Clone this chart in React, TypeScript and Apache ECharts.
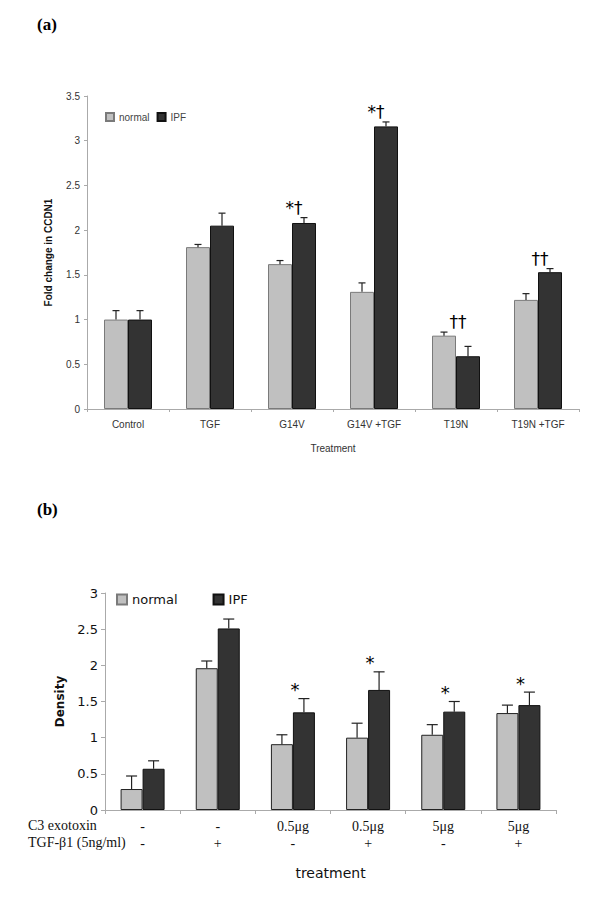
import React, { useEffect, useRef } from 'react';
import * as echarts from 'echarts';

// ---------- Panel (a) data ----------
const categoriesA = ['Control', 'TGF', 'G14V', 'G14V +TGF', 'T19N', 'T19N +TGF'];
const normalA = [1.0, 1.81, 1.62, 1.31, 0.82, 1.22];
const normalErrA = [0.10, 0.03, 0.04, 0.10, 0.04, 0.07];
const ipfA = [1.0, 2.05, 2.08, 3.16, 0.59, 1.53];
const ipfErrA = [0.10, 0.14, 0.06, 0.05, 0.11, 0.04];
const marksA = ['', '', '*†', '*†', '††', '††'];

// ---------- Panel (b) data ----------
const c3Row = ['-', '-', '0.5μg', '0.5μg', '5μg', '5μg'];
const tgfRow = ['-', '+', '-', '+', '-', '+'];
const normalB = [0.29, 1.96, 0.91, 1.0, 1.04, 1.34];
const normalErrB = [0.18, 0.10, 0.13, 0.20, 0.14, 0.11];
const ipfB = [0.57, 2.51, 1.35, 1.66, 1.36, 1.45];
const ipfErrB = [0.11, 0.13, 0.19, 0.25, 0.14, 0.18];
const marksB = ['', '', '*', '*', '*', '*'];

const categoriesB = c3Row.map((c, i) => c + '\n' + tgfRow[i]);

const BAR_A = 24;
const BAR_B = 22;

function errSeries(vals: number[], errs: number[], axis: number, offset: number, cap: number) {
  return {
    type: 'custom',
    xAxisIndex: axis,
    yAxisIndex: axis,
    z: 5,
    silent: true,
    data: vals.map((v, i) => [i, v, v + errs[i]]),
    renderItem: (_p: any, api: any) => {
      const base = api.coord([api.value(0), api.value(1)]);
      const top = api.coord([api.value(0), api.value(2)]);
      const x = base[0] + offset;
      return {
        type: 'group',
        children: [
          { type: 'line', shape: { x1: x, y1: base[1], x2: x, y2: top[1] }, style: { stroke: '#222', lineWidth: 1.2 } },
          { type: 'line', shape: { x1: x - cap, y1: top[1], x2: x + cap, y2: top[1] }, style: { stroke: '#222', lineWidth: 1.2 } },
        ],
      };
    },
  };
}

function markSeries(
  marks: string[], n: number[], ne: number[], p: number[], pe: number[],
  axis: number, dx: number, dy: number, font: string, size: number
) {
  return {
    type: 'custom',
    xAxisIndex: axis,
    yAxisIndex: axis,
    z: 6,
    silent: true,
    data: marks.map((_m, i) => [i, Math.max(n[i] + ne[i], p[i] + pe[i])]),
    renderItem: (params: any, api: any) => {
      const txt = marks[params.dataIndex];
      if (!txt) return { type: 'group', children: [] };
      const pt = api.coord([api.value(0), api.value(1)]);
      return {
        type: 'text',
        x: pt[0] + dx,
        y: pt[1] - dy,
        style: {
          text: txt,
          fontFamily: font,
          fontSize: size,
          fill: '#000',
          align: 'center',
          verticalAlign: 'middle',
        },
      };
    },
  };
}

export default function App() {
  const ref = useRef<HTMLDivElement>(null);

  useEffect(() => {
    if (!ref.current) return;
    const chart = echarts.init(ref.current, null, { renderer: 'svg' });
    const sansA = 'Liberation Sans, Arial, sans-serif';
    const sansB = 'DejaVu Sans, Verdana, sans-serif';
    const serif = 'Liberation Serif, Times New Roman, serif';

    chart.setOption({
      animation: false,
      backgroundColor: '#ffffff',
      legend: [
        {
          data: ['normal', 'IPF'],
          left: 105,
          top: 112,
          padding: 0,
          itemWidth: 8,
          itemHeight: 8,
          itemGap: 7,
          icon: 'rect',
          textStyle: { fontFamily: sansA, fontSize: 10, color: '#444' },
        },
        {
          data: ['normal', 'IPF'],
          left: 116,
          top: 593,
          padding: 0,
          itemWidth: 10,
          itemHeight: 10,
          itemGap: 35,
          icon: 'rect',
          textStyle: { fontFamily: sansB, fontSize: 13, color: '#111' },
        },
      ],
      grid: [
        { left: 87, top: 96, width: 492, height: 313 },
        { left: 105, top: 593, width: 451, height: 217 },
      ],
      xAxis: [
        {
          type: 'category',
          gridIndex: 0,
          data: categoriesA,
          axisLine: { lineStyle: { color: '#aaa', width: 1 } },
          axisTick: { show: true, length: 3, lineStyle: { color: '#aaa' } },
          axisLabel: { interval: 0, fontFamily: sansA, fontSize: 10, color: '#333', margin: 10 },
          name: 'Treatment',
          nameLocation: 'middle',
          nameGap: 34,
          nameTextStyle: { fontFamily: sansA, fontSize: 10, color: '#333' },
        },
        {
          type: 'category',
          gridIndex: 1,
          data: categoriesB,
          axisLine: { lineStyle: { color: '#aaa', width: 1 } },
          axisTick: { show: true, length: 4, lineStyle: { color: '#aaa' } },
          axisLabel: { interval: 0, fontFamily: serif, fontSize: 14, color: '#111', margin: 8, lineHeight: 17 },
          name: 'treatment',
          nameLocation: 'middle',
          nameGap: 56,
          nameTextStyle: { fontFamily: sansB, fontSize: 14, color: '#111' },
        },
      ],
      yAxis: [
        {
          type: 'value',
          gridIndex: 0,
          min: 0,
          max: 3.5,
          interval: 0.5,
          axisLine: { show: true, lineStyle: { color: '#aaa', width: 1 } },
          axisTick: { show: true, length: 3, lineStyle: { color: '#aaa' } },
          splitLine: { show: false },
          axisLabel: { fontFamily: sansA, fontSize: 10, color: '#333', margin: 7 },
          name: 'Fold change in CCDN1',
          nameLocation: 'middle',
          nameGap: 34,
          nameTextStyle: { fontFamily: sansA, fontSize: 10, fontWeight: 'bold', color: '#111' },
        },
        {
          type: 'value',
          gridIndex: 1,
          min: 0,
          max: 3,
          interval: 0.5,
          axisLine: { show: true, lineStyle: { color: '#aaa', width: 1 } },
          axisTick: { show: true, length: 4, lineStyle: { color: '#aaa' } },
          splitLine: { show: false },
          axisLabel: { fontFamily: sansB, fontSize: 13, color: '#111', margin: 7 },
          name: 'Density',
          nameLocation: 'middle',
          nameGap: 37,
          nameTextStyle: { fontFamily: sansB, fontSize: 12, fontWeight: 'bold', color: '#111' },
        },
      ],
      graphic: [
        { type: 'text', left: 37, top: 16, style: { text: '(a)', fontFamily: serif, fontSize: 17, fontWeight: 'bold', fill: '#000' } },
        { type: 'text', left: 37, top: 501, style: { text: '(b)', fontFamily: serif, fontSize: 17, fontWeight: 'bold', fill: '#000' } },
        { type: 'text', left: 28, top: 818, style: { text: 'C3 exotoxin', fontFamily: serif, fontSize: 14, fill: '#111' } },
        { type: 'text', left: 28, top: 835, style: { text: 'TGF-β1 (5ng/ml)', fontFamily: serif, fontSize: 14, fill: '#111' } },
      ],
      series: [
        {
          name: 'normal',
          type: 'bar',
          xAxisIndex: 0,
          yAxisIndex: 0,
          data: normalA,
          barWidth: BAR_A,
          barGap: '0%',
          itemStyle: { color: '#c0c0c0', borderColor: '#7a7a7a', borderWidth: 1 },
        },
        {
          name: 'IPF',
          type: 'bar',
          xAxisIndex: 0,
          yAxisIndex: 0,
          data: ipfA,
          barWidth: BAR_A,
          barGap: '0%',
          itemStyle: { color: '#333333', borderColor: '#111', borderWidth: 1 },
        },
        {
          name: 'normal',
          type: 'bar',
          xAxisIndex: 1,
          yAxisIndex: 1,
          data: normalB,
          barWidth: BAR_B,
          barGap: '0%',
          itemStyle: { color: '#c0c0c0', borderColor: '#222', borderWidth: 1 },
        },
        {
          name: 'IPF',
          type: 'bar',
          xAxisIndex: 1,
          yAxisIndex: 1,
          data: ipfB,
          barWidth: BAR_B,
          barGap: '0%',
          itemStyle: { color: '#333333', borderColor: '#111', borderWidth: 1 },
        },
        errSeries(normalA, normalErrA, 0, -BAR_A / 2, 3.5),
        errSeries(ipfA, ipfErrA, 0, BAR_A / 2, 3.5),
        errSeries(normalB, normalErrB, 1, -BAR_B / 2, 5.5),
        errSeries(ipfB, ipfErrB, 1, BAR_B / 2, 5.5),
        markSeries(marksA, normalA, normalErrA, ipfA, ipfErrA, 0, 2, 10, sansB, 17),
        markSeries(marksB, normalB, normalErrB, ipfB, ipfErrB, 1, 2, 9, sansB, 18),
      ],
    });

    return () => chart.dispose();
  }, []);

  return (
    <div
      ref={ref}
      style={{ position: 'fixed', left: 0, top: 0, width: 600, height: 899, background: '#fff' }}
    />
  );
}
